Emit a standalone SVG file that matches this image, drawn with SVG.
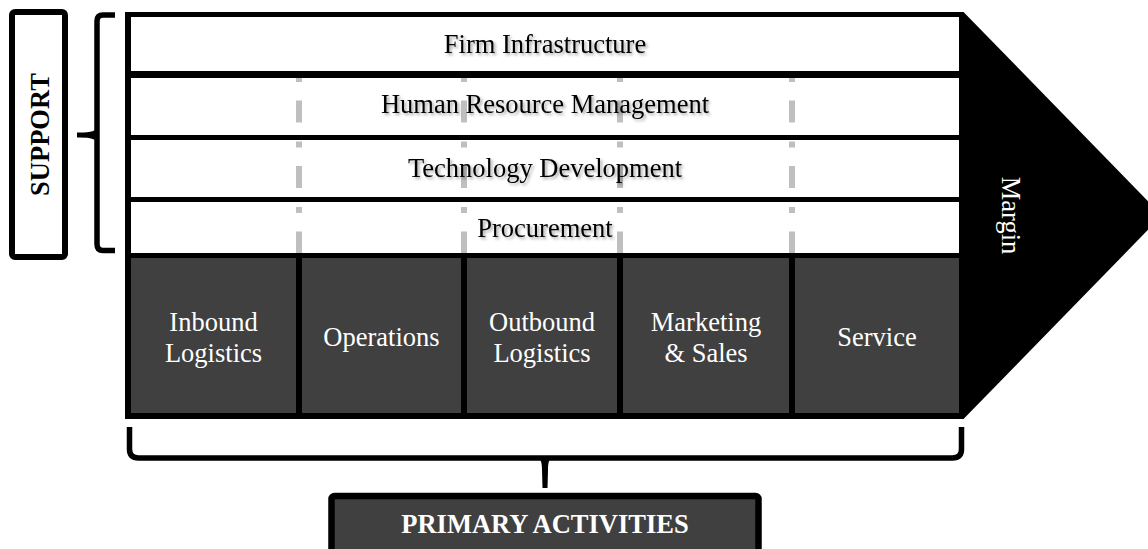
<svg xmlns="http://www.w3.org/2000/svg" width="1148" height="549" viewBox="0 0 1148 549">
  <style>
    .serif { font-family: "Liberation Serif", "Times New Roman", serif; font-size: 26.5px; }
    .dark-txt { fill: #ffffff; text-anchor: middle; }
    .row-txt { fill: #000000; text-anchor: middle; filter: url(#soft); }
    .bold { font-weight: bold; }
    .cell { fill: #404040; }
    .row { fill: #ffffff; }
    .dash { stroke: #bfbfbf; stroke-width: 6; fill: none; }
    .brace { fill: none; stroke: #000000; stroke-width: 5.5; stroke-linejoin: round; }
  </style>
  <defs>
    <filter id="soft" x="-10%" y="-40%" width="120%" height="180%">
      <feDropShadow dx="2" dy="2" stdDeviation="1.4" flood-color="#000000" flood-opacity="0.35"/>
    </filter>
    <!-- gray dashed column guide running through the support rows -->
    <path id="guide" d="M0 78V82 M0 100.5V122.5 M0 141.5V147.5 M0 166V188 M0 207V213 M0 231.5V253"/>
  </defs>

  <rect width="1148" height="549" fill="#ffffff"/>

  <!-- margin arrow -->
  <g id="margin">
    <polygon points="958,12 963.5,12 1162,215.5 963.5,419 958,419" fill="#000000"/>
    <text class="serif dark-txt" transform="translate(1002,215.5) rotate(90)" dy="0">Margin</text>
  </g>

  <!-- black frame: the gaps between the filled cells form the borders -->
  <rect id="frame" x="125" y="12" width="838" height="407" fill="#000000"/>

  <!-- support rows -->
  <g id="firm-infrastructure">
    <rect class="row" x="131" y="17" width="828" height="54"/>
  </g>
  <g id="human-resource-management">
    <rect class="row" x="131" y="78" width="828" height="57"/>
  </g>
  <g id="technology-development">
    <rect class="row" x="131" y="140" width="828" height="57"/>
  </g>
  <g id="procurement">
    <rect class="row" x="131" y="202" width="828" height="51"/>
  </g>

  <!-- column guides across the support rows -->
  <g id="guides" class="dash">
    <use href="#guide" x="299"/>
    <use href="#guide" x="464"/>
    <use href="#guide" x="620"/>
    <use href="#guide" x="792"/>
  </g>

  <g id="support-labels" class="serif row-txt">
    <text x="545" y="53">Firm Infrastructure</text>
    <text x="545" y="113">Human Resource Management</text>
    <text x="545" y="177">Technology Development</text>
    <text x="545" y="237">Procurement</text>
  </g>

  <!-- primary activities -->
  <g id="inbound-logistics">
    <rect class="cell" x="131" y="258" width="165" height="155"/>
    <text class="serif dark-txt" x="213.5" y="331">Inbound</text>
    <text class="serif dark-txt" x="213.5" y="362">Logistics</text>
  </g>
  <g id="operations">
    <rect class="cell" x="302" y="258" width="159" height="155"/>
    <text class="serif dark-txt" x="381.5" y="346">Operations</text>
  </g>
  <g id="outbound-logistics">
    <rect class="cell" x="467" y="258" width="150" height="155"/>
    <text class="serif dark-txt" x="542" y="331">Outbound</text>
    <text class="serif dark-txt" x="542" y="362">Logistics</text>
  </g>
  <g id="marketing-sales">
    <rect class="cell" x="623" y="258" width="166" height="155"/>
    <text class="serif dark-txt" x="706" y="331">Marketing</text>
    <text class="serif dark-txt" x="706" y="362">&amp; Sales</text>
  </g>
  <g id="service">
    <rect class="cell" x="795" y="258" width="164" height="155"/>
    <text class="serif dark-txt" x="877" y="346">Service</text>
  </g>

  <!-- support label box -->
  <g id="support">
    <rect x="12" y="12" width="53" height="245" rx="3" fill="#ffffff" stroke="#000000" stroke-width="6"/>
    <text class="serif bold" text-anchor="middle" transform="translate(49,134.5) rotate(-90)">SUPPORT</text>
  </g>

  <!-- primary activities label box -->
  <g id="primary-activities">
    <rect x="331.5" y="496" width="427" height="100" rx="3" fill="#404040" stroke="#000000" stroke-width="6.5"/>
    <text class="serif bold dark-txt" x="545" y="533">PRIMARY ACTIVITIES</text>
  </g>

  <!-- braces linking labels to the grid -->
  <g id="connectors">
    <path class="brace" d="M115 15H103Q97 15 97 21V244Q97 250.5 103 250.5H115"/>
    <path d="M98 127Q96 133 77 132.5L77 137.5Q96 137 98 143Z" fill="#000000"/>
    <path class="brace" d="M129.5 427V449Q129.5 458 138.5 458H952.5Q961.5 458 961.5 449V427"/>
    <path d="M532 456C541 456 542 462 542 470L542.5 488H547.5L548 470C548 462 549 456 558 456Z" fill="#000000"/>
  </g>
</svg>
